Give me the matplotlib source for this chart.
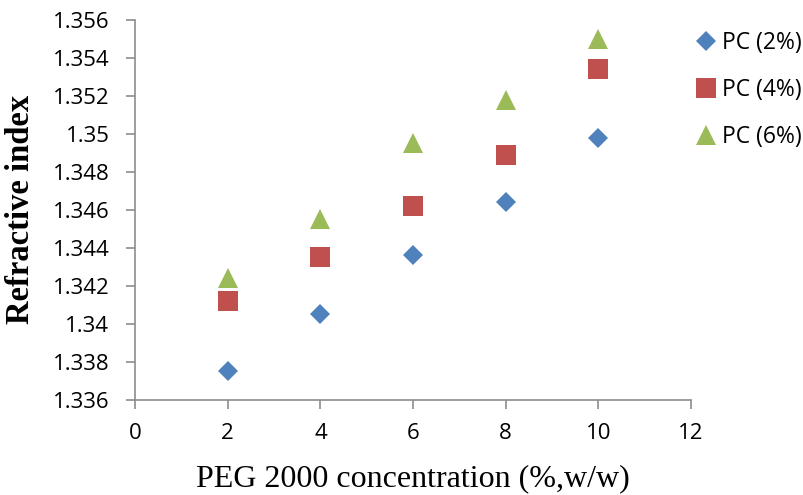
import matplotlib
matplotlib.use("Agg")
import matplotlib.pyplot as plt

# PEG 2000 concentration (%, w/w)
peg_conc = [2, 4, 6, 8, 10]

# Refractive index for each PC concentration
ri_pc2 = [1.3375, 1.3405, 1.3436, 1.3464, 1.3498]
ri_pc4 = [1.3412, 1.3435, 1.3462, 1.3489, 1.3534]
ri_pc6 = [1.3424, 1.3455, 1.3495, 1.3518, 1.3550]

series_labels = ["PC (2%)", "PC (4%)", "PC (6%)"]

x_ticks = [0, 2, 4, 6, 8, 10, 12]
y_ticks = [1.336, 1.338, 1.34, 1.342, 1.344, 1.346, 1.348,
           1.35, 1.352, 1.354, 1.356]
y_tick_labels = ["1.336", "1.338", "1.34", "1.342", "1.344", "1.346",
                 "1.348", "1.35", "1.352", "1.354", "1.356"]

tick_font = "Open Sans"
serif_font = "Liberation Serif"

fig = plt.figure(figsize=(8.04, 4.95), dpi=100)
ax = fig.add_axes([0.168, 0.192, 0.6915, 0.768])

ax.plot(peg_conc, ri_pc2, linestyle="none", marker="D", markersize=10.5,
        color="#4F81BD", markeredgewidth=0, label=series_labels[0])
ax.plot(peg_conc, ri_pc4, linestyle="none", marker="s", markersize=14,
        color="#C0504D", markeredgewidth=0, label=series_labels[1])
ax.plot(peg_conc, ri_pc6, linestyle="none", marker="^", markersize=14.5,
        color="#9BBB59", markeredgewidth=0, label=series_labels[2])

ax.set_xlim(0, 12)
ax.set_ylim(1.336, 1.356)
ax.set_xticks(x_ticks)
ax.set_xticklabels([str(v) for v in x_ticks], fontfamily=tick_font, fontsize=16)
ax.set_yticks(y_ticks)
ax.set_yticklabels(y_tick_labels, fontfamily=tick_font, fontsize=16)

for side in ("top", "right"):
    ax.spines[side].set_visible(False)
for side in ("left", "bottom"):
    ax.spines[side].set_color("#8c8c8c")
    ax.spines[side].set_linewidth(1.2)
ax.tick_params(axis="both", direction="out", length=6.5, width=1.2,
               color="#8c8c8c", labelcolor="black")
ax.tick_params(axis="x", pad=10)
ax.tick_params(axis="y", pad=12)

ax.set_xlabel("PEG 2000 concentration (%,w/w)", fontfamily=serif_font,
              fontsize=23, labelpad=15)
ax.set_ylabel("Refractive index", fontfamily=serif_font, fontsize=23.5,
              fontweight="bold", labelpad=12)

fig.legend(loc="upper left", bbox_to_anchor=(0.855, 0.955), frameon=False,
           prop={"family": tick_font, "size": 16.5}, handlelength=0.8,
           handletextpad=0.3, labelspacing=1.0, borderaxespad=0)

fig.savefig("out.png", dpi=100)
